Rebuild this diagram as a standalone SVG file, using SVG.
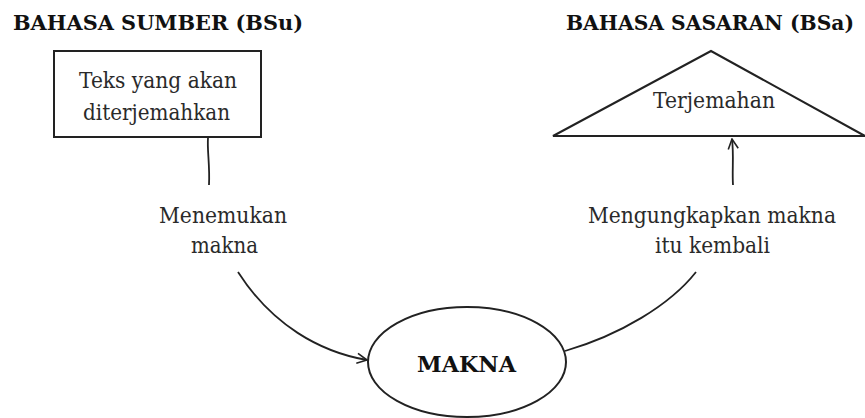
<svg xmlns="http://www.w3.org/2000/svg" width="865" height="418" viewBox="0 0 865 418">
<defs>
<style>
text{font-family:'DejaVu Serif','Liberation Serif',serif;fill:#2a2a2a;}
.b{font-weight:bold;fill:#111;}
.s{fill:none;stroke:#222;stroke-width:2;}
.l{fill:none;stroke:#222;stroke-width:1.8;}
</style>
<marker id="ah" viewBox="0 0 12 12" refX="11" refY="6" markerWidth="12" markerHeight="12" markerUnits="userSpaceOnUse" orient="auto">
<path d="M1,1 L11,6 L1,11" fill="none" stroke="#222" stroke-width="1.6"/>
</marker>
</defs>
<rect width="865" height="418" fill="#fff"/>
<text class="b" x="13" y="30" font-size="21" textLength="290" lengthAdjust="spacingAndGlyphs">BAHASA SUMBER (BSu)</text>
<text class="b" x="566" y="30" font-size="21" textLength="288" lengthAdjust="spacingAndGlyphs">BAHASA SASARAN (BSa)</text>
<g id="sumber">
<rect class="s" x="54" y="51" width="207" height="86"/>
<text x="79" y="88" font-size="22" textLength="158" lengthAdjust="spacingAndGlyphs">Teks yang akan</text>
<text x="83" y="120" font-size="22" textLength="147" lengthAdjust="spacingAndGlyphs">diterjemahkan</text>
</g>
<g id="sasaran">
<polygon class="s" points="711,51 553,136 865,136"/>
<text x="653" y="108" font-size="22" textLength="122" lengthAdjust="spacingAndGlyphs">Terjemahan</text>
</g>
<g id="makna">
<ellipse class="s" cx="467" cy="362" rx="99" ry="55"/>
<text class="b" x="417" y="372" font-size="23" textLength="99" lengthAdjust="spacingAndGlyphs">MAKNA</text>
</g>
<g id="label-menemukan">
<text x="159" y="223" font-size="22" textLength="128" lengthAdjust="spacingAndGlyphs">Menemukan</text>
<text x="191" y="253" font-size="22" textLength="67" lengthAdjust="spacingAndGlyphs">makna</text>
</g>
<g id="label-mengungkapkan">
<text x="588" y="223" font-size="22" textLength="248" lengthAdjust="spacingAndGlyphs">Mengungkapkan makna</text>
<text x="655" y="253" font-size="22" textLength="115" lengthAdjust="spacingAndGlyphs">itu kembali</text>
</g>
<g id="connectors">
<path class="l" d="M208,138 C207,150 210,165 209,185"/>
<path class="l" d="M238,272 C272,325 320,352 367,360" marker-end="url(#ah)"/>
<path class="l" d="M565,351 C620,335 670,305 696,272"/>
<path class="l" d="M733,185 C732,170 734,155 732,139" marker-end="url(#ah)"/>
</g>
</svg>
